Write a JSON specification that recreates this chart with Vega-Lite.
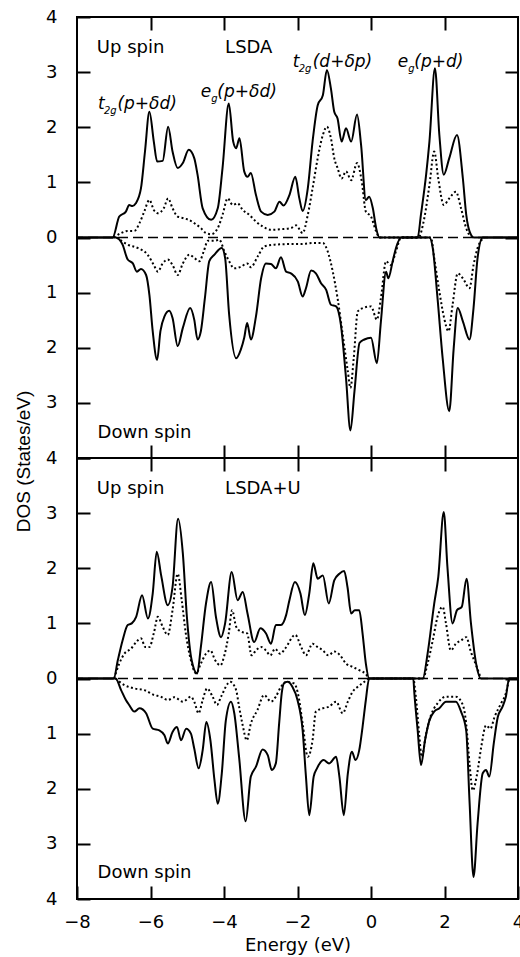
{
  "$schema": "https://vega.github.io/schema/vega-lite/v6.json",
  "background": "white",
  "padding": {"left": 13, "top": 7, "right": 3, "bottom": 5},
  "spacing": 0,
  "bounds": "flush",
  "config": {
    "font": "DejaVu Sans",
    "view": {"stroke": "black", "strokeWidth": 2},
    "axis": {
      "labelFont": "DejaVu Sans", "labelFontSize": 18, "labelColor": "black", "labelFlush": false,
      "titleFont": "DejaVu Sans", "titleFontSize": 18, "titleFontWeight": "normal", "titleColor": "black",
      "domain": false, "ticks": true, "tickSize": 13, "offset": -13, "tickColor": "black", "tickWidth": 2, "tickOpacity": 1,
      "grid": false, "zindex": 2
    },
    "line": {"interpolate": "monotone"},
    "text": {"font": "DejaVu Sans", "fontSize": 18, "color": "black", "align": "left", "baseline": "alphabetic"}
  },
  "datasets": {
    "lsda": [
      {"s":"u","k":"t","e":-8,"d":0},{"s":"u","k":"t","e":-7.03,"d":0},{"s":"u","k":"t","e":-6.85,"d":0.38},{"s":"u","k":"t","e":-6.67,"d":0.47},{"s":"u","k":"t","e":-6.58,"d":0.59},{"s":"u","k":"t","e":-6.49,"d":0.57},{"s":"u","k":"t","e":-6.40,"d":0.62},{"s":"u","k":"t","e":-6.26,"d":0.89},{"s":"u","k":"t","e":-6.15,"d":1.56},{"s":"u","k":"t","e":-6.03,"d":2.28},{"s":"u","k":"t","e":-5.91,"d":1.74},{"s":"u","k":"t","e":-5.82,"d":1.38},{"s":"u","k":"t","e":-5.67,"d":1.39},{"s":"u","k":"t","e":-5.52,"d":2.01},{"s":"u","k":"t","e":-5.40,"d":1.56},{"s":"u","k":"t","e":-5.26,"d":1.26},{"s":"u","k":"t","e":-5.12,"d":1.35},{"s":"u","k":"t","e":-4.96,"d":1.59},{"s":"u","k":"t","e":-4.81,"d":1.44},{"s":"u","k":"t","e":-4.72,"d":1.14},{"s":"u","k":"t","e":-4.58,"d":0.53},{"s":"u","k":"t","e":-4.35,"d":0.32},{"s":"u","k":"t","e":-4.17,"d":0.53},{"s":"u","k":"t","e":-4.04,"d":1.26},{"s":"u","k":"t","e":-3.87,"d":2.43},{"s":"u","k":"t","e":-3.75,"d":1.74},{"s":"u","k":"t","e":-3.67,"d":1.62},{"s":"u","k":"t","e":-3.58,"d":1.80},{"s":"u","k":"t","e":-3.45,"d":1.20},{"s":"u","k":"t","e":-3.36,"d":1.10},{"s":"u","k":"t","e":-3.27,"d":1.17},{"s":"u","k":"t","e":-3.13,"d":0.77},{"s":"u","k":"t","e":-2.99,"d":0.47},{"s":"u","k":"t","e":-2.81,"d":0.41},{"s":"u","k":"t","e":-2.63,"d":0.47},{"s":"u","k":"t","e":-2.49,"d":0.65},{"s":"u","k":"t","e":-2.38,"d":0.58},{"s":"u","k":"t","e":-2.22,"d":0.77},{"s":"u","k":"t","e":-2.06,"d":1.10},{"s":"u","k":"t","e":-1.95,"d":0.71},{"s":"u","k":"t","e":-1.86,"d":0.48},{"s":"u","k":"t","e":-1.72,"d":0.89},{"s":"u","k":"t","e":-1.59,"d":1.74},{"s":"u","k":"t","e":-1.45,"d":2.40},{"s":"u","k":"t","e":-1.31,"d":2.58},{"s":"u","k":"t","e":-1.20,"d":3.04},{"s":"u","k":"t","e":-1.09,"d":2.70},{"s":"u","k":"t","e":-1.00,"d":2.28},{"s":"u","k":"t","e":-0.91,"d":2.16},{"s":"u","k":"t","e":-0.80,"d":1.74},{"s":"u","k":"t","e":-0.68,"d":1.98},{"s":"u","k":"t","e":-0.54,"d":1.74},{"s":"u","k":"t","e":-0.38,"d":2.23},{"s":"u","k":"t","e":-0.27,"d":1.68},{"s":"u","k":"t","e":-0.14,"d":0.68},{"s":"u","k":"t","e":-0.05,"d":0.74},{"s":"u","k":"t","e":0.05,"d":0.53},{"s":"u","k":"t","e":0.14,"d":0.17},{"s":"u","k":"t","e":0.23,"d":0},{"s":"u","k":"t","e":1.27,"d":0},{"s":"u","k":"t","e":1.36,"d":0.42},{"s":"u","k":"t","e":1.50,"d":1.14},{"s":"u","k":"t","e":1.59,"d":1.74},{"s":"u","k":"t","e":1.74,"d":3.07},{"s":"u","k":"t","e":1.86,"d":1.86},{"s":"u","k":"t","e":1.98,"d":1.14},{"s":"u","k":"t","e":2.13,"d":1.44},{"s":"u","k":"t","e":2.34,"d":1.86},{"s":"u","k":"t","e":2.50,"d":1.07},{"s":"u","k":"t","e":2.59,"d":0.42},{"s":"u","k":"t","e":2.72,"d":0.05},{"s":"u","k":"t","e":2.80,"d":0},{"s":"u","k":"t","e":4,"d":0},
      {"s":"u","k":"p","e":-7.0,"d":0},{"s":"u","k":"p","e":-6.80,"d":0.08},{"s":"u","k":"p","e":-6.62,"d":0.12},{"s":"u","k":"p","e":-6.44,"d":0.12},{"s":"u","k":"p","e":-6.30,"d":0.26},{"s":"u","k":"p","e":-6.17,"d":0.47},{"s":"u","k":"p","e":-6.03,"d":0.68},{"s":"u","k":"p","e":-5.91,"d":0.50},{"s":"u","k":"p","e":-5.79,"d":0.44},{"s":"u","k":"p","e":-5.64,"d":0.53},{"s":"u","k":"p","e":-5.52,"d":0.71},{"s":"u","k":"p","e":-5.40,"d":0.53},{"s":"u","k":"p","e":-5.26,"d":0.38},{"s":"u","k":"p","e":-5.10,"d":0.35},{"s":"u","k":"p","e":-4.96,"d":0.32},{"s":"u","k":"p","e":-4.81,"d":0.26},{"s":"u","k":"p","e":-4.63,"d":0.17},{"s":"u","k":"p","e":-4.49,"d":0.08},{"s":"u","k":"p","e":-4.35,"d":0.06},{"s":"u","k":"p","e":-4.17,"d":0.17},{"s":"u","k":"p","e":-4.04,"d":0.41},{"s":"u","k":"p","e":-3.90,"d":0.71},{"s":"u","k":"p","e":-3.76,"d":0.59},{"s":"u","k":"p","e":-3.63,"d":0.62},{"s":"u","k":"p","e":-3.49,"d":0.50},{"s":"u","k":"p","e":-3.31,"d":0.41},{"s":"u","k":"p","e":-3.13,"d":0.29},{"s":"u","k":"p","e":-2.95,"d":0.20},{"s":"u","k":"p","e":-2.72,"d":0.14},{"s":"u","k":"p","e":-2.45,"d":0.15},{"s":"u","k":"p","e":-2.18,"d":0.17},{"s":"u","k":"p","e":-2.04,"d":0.22},{"s":"u","k":"p","e":-1.86,"d":0.08},{"s":"u","k":"p","e":-1.72,"d":0.41},{"s":"u","k":"p","e":-1.59,"d":0.89},{"s":"u","k":"p","e":-1.45,"d":1.44},{"s":"u","k":"p","e":-1.31,"d":1.86},{"s":"u","k":"p","e":-1.20,"d":2.01},{"s":"u","k":"p","e":-1.09,"d":1.80},{"s":"u","k":"p","e":-1.00,"d":1.44},{"s":"u","k":"p","e":-0.91,"d":1.26},{"s":"u","k":"p","e":-0.80,"d":1.07},{"s":"u","k":"p","e":-0.68,"d":1.20},{"s":"u","k":"p","e":-0.54,"d":1.04},{"s":"u","k":"p","e":-0.38,"d":1.35},{"s":"u","k":"p","e":-0.25,"d":1.01},{"s":"u","k":"p","e":-0.14,"d":0.47},{"s":"u","k":"p","e":0.0,"d":0.38},{"s":"u","k":"p","e":0.14,"d":0.11},{"s":"u","k":"p","e":0.23,"d":0},{"s":"u","k":"p","e":1.29,"d":0},{"s":"u","k":"p","e":1.45,"d":0.35},{"s":"u","k":"p","e":1.59,"d":0.95},{"s":"u","k":"p","e":1.72,"d":1.56},{"s":"u","k":"p","e":1.83,"d":1.07},{"s":"u","k":"p","e":1.98,"d":0.59},{"s":"u","k":"p","e":2.13,"d":0.71},{"s":"u","k":"p","e":2.31,"d":0.83},{"s":"u","k":"p","e":2.45,"d":0.53},{"s":"u","k":"p","e":2.59,"d":0.17},{"s":"u","k":"p","e":2.72,"d":0},
      {"s":"d","k":"t","e":-8,"d":0},{"s":"d","k":"t","e":-6.94,"d":0},{"s":"d","k":"t","e":-6.76,"d":-0.13},{"s":"d","k":"t","e":-6.62,"d":-0.40},{"s":"d","k":"t","e":-6.48,"d":-0.47},{"s":"d","k":"t","e":-6.37,"d":-0.62},{"s":"d","k":"t","e":-6.26,"d":-0.57},{"s":"d","k":"t","e":-6.12,"d":-0.68},{"s":"d","k":"t","e":-6.03,"d":-1.04},{"s":"d","k":"t","e":-5.94,"d":-1.70},{"s":"d","k":"t","e":-5.82,"d":-2.22},{"s":"d","k":"t","e":-5.73,"d":-1.70},{"s":"d","k":"t","e":-5.62,"d":-1.43},{"s":"d","k":"t","e":-5.49,"d":-1.33},{"s":"d","k":"t","e":-5.40,"d":-1.46},{"s":"d","k":"t","e":-5.26,"d":-1.97},{"s":"d","k":"t","e":-5.12,"d":-1.64},{"s":"d","k":"t","e":-4.92,"d":-1.28},{"s":"d","k":"t","e":-4.81,"d":-1.49},{"s":"d","k":"t","e":-4.72,"d":-1.85},{"s":"d","k":"t","e":-4.63,"d":-1.70},{"s":"d","k":"t","e":-4.52,"d":-1.10},{"s":"d","k":"t","e":-4.40,"d":-0.43},{"s":"d","k":"t","e":-4.26,"d":-0.31},{"s":"d","k":"t","e":-4.06,"d":-0.19},{"s":"d","k":"t","e":-3.97,"d":-0.37},{"s":"d","k":"t","e":-3.86,"d":-1.40},{"s":"d","k":"t","e":-3.67,"d":-2.19},{"s":"d","k":"t","e":-3.54,"d":-2.03},{"s":"d","k":"t","e":-3.45,"d":-1.82},{"s":"d","k":"t","e":-3.37,"d":-1.55},{"s":"d","k":"t","e":-3.27,"d":-1.85},{"s":"d","k":"t","e":-3.13,"d":-1.43},{"s":"d","k":"t","e":-2.99,"d":-0.74},{"s":"d","k":"t","e":-2.86,"d":-0.47},{"s":"d","k":"t","e":-2.72,"d":-0.48},{"s":"d","k":"t","e":-2.59,"d":-0.56},{"s":"d","k":"t","e":-2.45,"d":-0.36},{"s":"d","k":"t","e":-2.31,"d":-0.62},{"s":"d","k":"t","e":-2.18,"d":-0.65},{"s":"d","k":"t","e":-1.99,"d":-0.80},{"s":"d","k":"t","e":-1.86,"d":-1.07},{"s":"d","k":"t","e":-1.77,"d":-0.92},{"s":"d","k":"t","e":-1.63,"d":-0.60},{"s":"d","k":"t","e":-1.50,"d":-0.65},{"s":"d","k":"t","e":-1.36,"d":-0.83},{"s":"d","k":"t","e":-1.22,"d":-0.95},{"s":"d","k":"t","e":-1.09,"d":-1.22},{"s":"d","k":"t","e":-0.95,"d":-1.25},{"s":"d","k":"t","e":-0.82,"d":-1.58},{"s":"d","k":"t","e":-0.68,"d":-2.55},{"s":"d","k":"t","e":-0.56,"d":-3.50},{"s":"d","k":"t","e":-0.45,"d":-2.79},{"s":"d","k":"t","e":-0.31,"d":-1.91},{"s":"d","k":"t","e":-0.18,"d":-1.85},{"s":"d","k":"t","e":0.0,"d":-1.82},{"s":"d","k":"t","e":0.16,"d":-2.28},{"s":"d","k":"t","e":0.27,"d":-1.52},{"s":"d","k":"t","e":0.41,"d":-0.62},{"s":"d","k":"t","e":0.47,"d":-0.74},{"s":"d","k":"t","e":0.59,"d":-0.43},{"s":"d","k":"t","e":0.68,"d":-0.19},{"s":"d","k":"t","e":0.82,"d":0},{"s":"d","k":"t","e":1.59,"d":0},{"s":"d","k":"t","e":1.68,"d":-0.19},{"s":"d","k":"t","e":1.81,"d":-1.10},{"s":"d","k":"t","e":1.95,"d":-2.19},{"s":"d","k":"t","e":2.13,"d":-3.15},{"s":"d","k":"t","e":2.25,"d":-2.01},{"s":"d","k":"t","e":2.36,"d":-1.28},{"s":"d","k":"t","e":2.50,"d":-1.52},{"s":"d","k":"t","e":2.68,"d":-1.85},{"s":"d","k":"t","e":2.79,"d":-1.28},{"s":"d","k":"t","e":2.90,"d":-0.37},{"s":"d","k":"t","e":3.04,"d":0},{"s":"d","k":"t","e":4,"d":0},
      {"s":"d","k":"p","e":-6.92,"d":0},{"s":"d","k":"p","e":-6.62,"d":-0.13},{"s":"d","k":"p","e":-6.35,"d":-0.19},{"s":"d","k":"p","e":-6.08,"d":-0.31},{"s":"d","k":"p","e":-5.91,"d":-0.50},{"s":"d","k":"p","e":-5.80,"d":-0.62},{"s":"d","k":"p","e":-5.67,"d":-0.47},{"s":"d","k":"p","e":-5.53,"d":-0.40},{"s":"d","k":"p","e":-5.40,"d":-0.50},{"s":"d","k":"p","e":-5.26,"d":-0.68},{"s":"d","k":"p","e":-5.12,"d":-0.47},{"s":"d","k":"p","e":-4.94,"d":-0.31},{"s":"d","k":"p","e":-4.81,"d":-0.37},{"s":"d","k":"p","e":-4.67,"d":-0.43},{"s":"d","k":"p","e":-4.55,"d":-0.25},{"s":"d","k":"p","e":-4.44,"d":-0.06},{"s":"d","k":"p","e":-4.26,"d":-0.06},{"s":"d","k":"p","e":-4.13,"d":-0.04},{"s":"d","k":"p","e":-3.99,"d":-0.25},{"s":"d","k":"p","e":-3.86,"d":-0.43},{"s":"d","k":"p","e":-3.72,"d":-0.56},{"s":"d","k":"p","e":-3.54,"d":-0.53},{"s":"d","k":"p","e":-3.37,"d":-0.47},{"s":"d","k":"p","e":-3.27,"d":-0.54},{"s":"d","k":"p","e":-3.08,"d":-0.34},{"s":"d","k":"p","e":-2.90,"d":-0.16},{"s":"d","k":"p","e":-2.63,"d":-0.13},{"s":"d","k":"p","e":-2.27,"d":-0.12},{"s":"d","k":"p","e":-1.90,"d":-0.12},{"s":"d","k":"p","e":-1.59,"d":-0.10},{"s":"d","k":"p","e":-1.31,"d":-0.10},{"s":"d","k":"p","e":-1.18,"d":-0.25},{"s":"d","k":"p","e":-1.04,"d":-0.62},{"s":"d","k":"p","e":-0.91,"d":-1.10},{"s":"d","k":"p","e":-0.77,"d":-1.76},{"s":"d","k":"p","e":-0.63,"d":-2.43},{"s":"d","k":"p","e":-0.56,"d":-2.73},{"s":"d","k":"p","e":-0.47,"d":-2.19},{"s":"d","k":"p","e":-0.36,"d":-1.34},{"s":"d","k":"p","e":-0.22,"d":-1.28},{"s":"d","k":"p","e":0.0,"d":-1.25},{"s":"d","k":"p","e":0.16,"d":-1.49},{"s":"d","k":"p","e":0.27,"d":-1.10},{"s":"d","k":"p","e":0.41,"d":-0.43},{"s":"d","k":"p","e":0.54,"d":-0.50},{"s":"d","k":"p","e":0.68,"d":-0.25},{"s":"d","k":"p","e":0.82,"d":0},{"s":"d","k":"p","e":1.63,"d":0},{"s":"d","k":"p","e":1.72,"d":-0.37},{"s":"d","k":"p","e":1.86,"d":-0.98},{"s":"d","k":"p","e":1.99,"d":-1.46},{"s":"d","k":"p","e":2.11,"d":-1.70},{"s":"d","k":"p","e":2.22,"d":-1.22},{"s":"d","k":"p","e":2.36,"d":-0.65},{"s":"d","k":"p","e":2.50,"d":-0.74},{"s":"d","k":"p","e":2.68,"d":-0.92},{"s":"d","k":"p","e":2.79,"d":-0.50},{"s":"d","k":"p","e":2.90,"d":-0.19},{"s":"d","k":"p","e":3.08,"d":0}
    ],
    "lsdau": [
      {"s":"u","k":"t","e":-8,"d":0},{"s":"u","k":"t","e":-7.00,"d":0},{"s":"u","k":"t","e":-6.89,"d":0.33},{"s":"u","k":"t","e":-6.76,"d":0.69},{"s":"u","k":"t","e":-6.62,"d":0.97},{"s":"u","k":"t","e":-6.51,"d":1.00},{"s":"u","k":"t","e":-6.39,"d":1.12},{"s":"u","k":"t","e":-6.23,"d":1.51},{"s":"u","k":"t","e":-6.07,"d":1.09},{"s":"u","k":"t","e":-5.94,"d":1.54},{"s":"u","k":"t","e":-5.83,"d":2.30},{"s":"u","k":"t","e":-5.71,"d":1.87},{"s":"u","k":"t","e":-5.53,"d":1.33},{"s":"u","k":"t","e":-5.40,"d":1.66},{"s":"u","k":"t","e":-5.25,"d":2.90},{"s":"u","k":"t","e":-5.12,"d":2.27},{"s":"u","k":"t","e":-5.01,"d":1.12},{"s":"u","k":"t","e":-4.88,"d":0.33},{"s":"u","k":"t","e":-4.73,"d":0.09},{"s":"u","k":"t","e":-4.63,"d":0.57},{"s":"u","k":"t","e":-4.49,"d":1.36},{"s":"u","k":"t","e":-4.35,"d":1.75},{"s":"u","k":"t","e":-4.22,"d":1.12},{"s":"u","k":"t","e":-4.08,"d":0.75},{"s":"u","k":"t","e":-3.97,"d":1.00},{"s":"u","k":"t","e":-3.79,"d":1.93},{"s":"u","k":"t","e":-3.63,"d":1.42},{"s":"u","k":"t","e":-3.49,"d":1.57},{"s":"u","k":"t","e":-3.36,"d":1.18},{"s":"u","k":"t","e":-3.18,"d":0.66},{"s":"u","k":"t","e":-3.01,"d":0.91},{"s":"u","k":"t","e":-2.86,"d":0.82},{"s":"u","k":"t","e":-2.72,"d":0.63},{"s":"u","k":"t","e":-2.59,"d":0.97},{"s":"u","k":"t","e":-2.45,"d":0.97},{"s":"u","k":"t","e":-2.31,"d":1.15},{"s":"u","k":"t","e":-2.22,"d":1.42},{"s":"u","k":"t","e":-2.07,"d":1.75},{"s":"u","k":"t","e":-1.92,"d":1.54},{"s":"u","k":"t","e":-1.80,"d":1.15},{"s":"u","k":"t","e":-1.68,"d":1.54},{"s":"u","k":"t","e":-1.57,"d":2.09},{"s":"u","k":"t","e":-1.45,"d":1.81},{"s":"u","k":"t","e":-1.31,"d":1.87},{"s":"u","k":"t","e":-1.15,"d":1.36},{"s":"u","k":"t","e":-1.00,"d":1.78},{"s":"u","k":"t","e":-0.86,"d":1.90},{"s":"u","k":"t","e":-0.73,"d":1.95},{"s":"u","k":"t","e":-0.64,"d":1.66},{"s":"u","k":"t","e":-0.54,"d":1.18},{"s":"u","k":"t","e":-0.44,"d":1.24},{"s":"u","k":"t","e":-0.32,"d":1.24},{"s":"u","k":"t","e":-0.23,"d":0.82},{"s":"u","k":"t","e":-0.14,"d":0.27},{"s":"u","k":"t","e":-0.05,"d":0},{"s":"u","k":"t","e":1.41,"d":0},{"s":"u","k":"t","e":1.54,"d":0.45},{"s":"u","k":"t","e":1.72,"d":1.36},{"s":"u","k":"t","e":1.83,"d":1.84},{"s":"u","k":"t","e":1.98,"d":3.02},{"s":"u","k":"t","e":2.08,"d":2.02},{"s":"u","k":"t","e":2.22,"d":1.00},{"s":"u","k":"t","e":2.34,"d":1.24},{"s":"u","k":"t","e":2.47,"d":1.30},{"s":"u","k":"t","e":2.60,"d":1.81},{"s":"u","k":"t","e":2.72,"d":1.00},{"s":"u","k":"t","e":2.86,"d":0.27},{"s":"u","k":"t","e":2.99,"d":0},{"s":"u","k":"t","e":4,"d":0},
      {"s":"u","k":"p","e":-6.99,"d":0},{"s":"u","k":"p","e":-6.85,"d":0.27},{"s":"u","k":"p","e":-6.71,"d":0.45},{"s":"u","k":"p","e":-6.53,"d":0.54},{"s":"u","k":"p","e":-6.39,"d":0.66},{"s":"u","k":"p","e":-6.26,"d":0.73},{"s":"u","k":"p","e":-6.14,"d":0.57},{"s":"u","k":"p","e":-6.03,"d":0.57},{"s":"u","k":"p","e":-5.91,"d":0.82},{"s":"u","k":"p","e":-5.80,"d":1.12},{"s":"u","k":"p","e":-5.67,"d":0.94},{"s":"u","k":"p","e":-5.53,"d":0.79},{"s":"u","k":"p","e":-5.40,"d":1.24},{"s":"u","k":"p","e":-5.26,"d":1.90},{"s":"u","k":"p","e":-5.15,"d":1.42},{"s":"u","k":"p","e":-5.04,"d":0.82},{"s":"u","k":"p","e":-4.90,"d":0.33},{"s":"u","k":"p","e":-4.76,"d":0.09},{"s":"u","k":"p","e":-4.63,"d":0.27},{"s":"u","k":"p","e":-4.49,"d":0.45},{"s":"u","k":"p","e":-4.37,"d":0.51},{"s":"u","k":"p","e":-4.24,"d":0.33},{"s":"u","k":"p","e":-4.10,"d":0.24},{"s":"u","k":"p","e":-3.99,"d":0.42},{"s":"u","k":"p","e":-3.87,"d":0.82},{"s":"u","k":"p","e":-3.78,"d":1.24},{"s":"u","k":"p","e":-3.67,"d":0.94},{"s":"u","k":"p","e":-3.54,"d":0.85},{"s":"u","k":"p","e":-3.37,"d":0.82},{"s":"u","k":"p","e":-3.25,"d":0.42},{"s":"u","k":"p","e":-3.13,"d":0.51},{"s":"u","k":"p","e":-2.99,"d":0.57},{"s":"u","k":"p","e":-2.86,"d":0.51},{"s":"u","k":"p","e":-2.74,"d":0.42},{"s":"u","k":"p","e":-2.61,"d":0.54},{"s":"u","k":"p","e":-2.47,"d":0.45},{"s":"u","k":"p","e":-2.34,"d":0.54},{"s":"u","k":"p","e":-2.06,"d":0.79},{"s":"u","k":"p","e":-1.90,"d":0.57},{"s":"u","k":"p","e":-1.77,"d":0.42},{"s":"u","k":"p","e":-1.59,"d":0.63},{"s":"u","k":"p","e":-1.45,"d":0.57},{"s":"u","k":"p","e":-1.31,"d":0.51},{"s":"u","k":"p","e":-1.16,"d":0.42},{"s":"u","k":"p","e":-1.00,"d":0.49},{"s":"u","k":"p","e":-0.84,"d":0.42},{"s":"u","k":"p","e":-0.68,"d":0.27},{"s":"u","k":"p","e":-0.50,"d":0.21},{"s":"u","k":"p","e":-0.32,"d":0.15},{"s":"u","k":"p","e":-0.14,"d":0.08},{"s":"u","k":"p","e":-0.05,"d":0},{"s":"u","k":"p","e":1.41,"d":0},{"s":"u","k":"p","e":1.54,"d":0.27},{"s":"u","k":"p","e":1.68,"d":0.69},{"s":"u","k":"p","e":1.81,"d":1.12},{"s":"u","k":"p","e":1.95,"d":1.30},{"s":"u","k":"p","e":2.04,"d":1.00},{"s":"u","k":"p","e":2.17,"d":0.51},{"s":"u","k":"p","e":2.31,"d":0.63},{"s":"u","k":"p","e":2.45,"d":0.69},{"s":"u","k":"p","e":2.59,"d":0.75},{"s":"u","k":"p","e":2.72,"d":0.48},{"s":"u","k":"p","e":2.86,"d":0.24},{"s":"u","k":"p","e":2.99,"d":0},
      {"s":"d","k":"t","e":-8,"d":0},{"s":"d","k":"t","e":-6.95,"d":0},{"s":"d","k":"t","e":-6.80,"d":-0.21},{"s":"d","k":"t","e":-6.67,"d":-0.39},{"s":"d","k":"t","e":-6.58,"d":-0.48},{"s":"d","k":"t","e":-6.44,"d":-0.60},{"s":"d","k":"t","e":-6.30,"d":-0.54},{"s":"d","k":"t","e":-6.12,"d":-0.63},{"s":"d","k":"t","e":-5.94,"d":-0.91},{"s":"d","k":"t","e":-5.76,"d":-0.94},{"s":"d","k":"t","e":-5.62,"d":-1.03},{"s":"d","k":"t","e":-5.53,"d":-1.18},{"s":"d","k":"t","e":-5.40,"d":-0.97},{"s":"d","k":"t","e":-5.28,"d":-0.88},{"s":"d","k":"t","e":-5.17,"d":-1.12},{"s":"d","k":"t","e":-5.03,"d":-0.91},{"s":"d","k":"t","e":-4.90,"d":-1.00},{"s":"d","k":"t","e":-4.81,"d":-1.27},{"s":"d","k":"t","e":-4.69,"d":-1.63},{"s":"d","k":"t","e":-4.58,"d":-1.30},{"s":"d","k":"t","e":-4.48,"d":-0.79},{"s":"d","k":"t","e":-4.37,"d":-1.12},{"s":"d","k":"t","e":-4.26,"d":-1.84},{"s":"d","k":"t","e":-4.17,"d":-2.27},{"s":"d","k":"t","e":-4.06,"d":-1.72},{"s":"d","k":"t","e":-3.95,"d":-0.76},{"s":"d","k":"t","e":-3.81,"d":-0.42},{"s":"d","k":"t","e":-3.72,"d":-0.63},{"s":"d","k":"t","e":-3.59,"d":-1.42},{"s":"d","k":"t","e":-3.41,"d":-2.59},{"s":"d","k":"t","e":-3.27,"d":-1.78},{"s":"d","k":"t","e":-3.13,"d":-1.60},{"s":"d","k":"t","e":-2.95,"d":-1.29},{"s":"d","k":"t","e":-2.81,"d":-1.39},{"s":"d","k":"t","e":-2.70,"d":-1.66},{"s":"d","k":"t","e":-2.59,"d":-1.54},{"s":"d","k":"t","e":-2.50,"d":-0.82},{"s":"d","k":"t","e":-2.43,"d":-0.27},{"s":"d","k":"t","e":-2.37,"d":-0.09},{"s":"d","k":"t","e":-2.27,"d":-0.06},{"s":"d","k":"t","e":-2.14,"d":-0.15},{"s":"d","k":"t","e":-2.00,"d":-0.39},{"s":"d","k":"t","e":-1.86,"d":-0.94},{"s":"d","k":"t","e":-1.77,"d":-1.78},{"s":"d","k":"t","e":-1.68,"d":-2.48},{"s":"d","k":"t","e":-1.56,"d":-1.78},{"s":"d","k":"t","e":-1.47,"d":-1.63},{"s":"d","k":"t","e":-1.29,"d":-1.48},{"s":"d","k":"t","e":-1.14,"d":-1.54},{"s":"d","k":"t","e":-0.95,"d":-1.42},{"s":"d","k":"t","e":-0.86,"d":-1.78},{"s":"d","k":"t","e":-0.74,"d":-2.48},{"s":"d","k":"t","e":-0.63,"d":-1.72},{"s":"d","k":"t","e":-0.52,"d":-1.33},{"s":"d","k":"t","e":-0.42,"d":-1.48},{"s":"d","k":"t","e":-0.32,"d":-1.30},{"s":"d","k":"t","e":-0.23,"d":-0.88},{"s":"d","k":"t","e":-0.14,"d":-0.39},{"s":"d","k":"t","e":-0.05,"d":0},{"s":"d","k":"t","e":1.15,"d":0},{"s":"d","k":"t","e":1.18,"d":-0.27},{"s":"d","k":"t","e":1.27,"d":-0.94},{"s":"d","k":"t","e":1.36,"d":-1.57},{"s":"d","k":"t","e":1.47,"d":-1.12},{"s":"d","k":"t","e":1.59,"d":-0.76},{"s":"d","k":"t","e":1.72,"d":-0.60},{"s":"d","k":"t","e":1.86,"d":-0.54},{"s":"d","k":"t","e":2.04,"d":-0.42},{"s":"d","k":"t","e":2.31,"d":-0.42},{"s":"d","k":"t","e":2.45,"d":-0.60},{"s":"d","k":"t","e":2.59,"d":-0.94},{"s":"d","k":"t","e":2.68,"d":-2.21},{"s":"d","k":"t","e":2.79,"d":-3.60},{"s":"d","k":"t","e":2.90,"d":-2.63},{"s":"d","k":"t","e":3.04,"d":-1.72},{"s":"d","k":"t","e":3.13,"d":-1.66},{"s":"d","k":"t","e":3.22,"d":-1.78},{"s":"d","k":"t","e":3.34,"d":-1.18},{"s":"d","k":"t","e":3.45,"d":-0.70},{"s":"d","k":"t","e":3.58,"d":-0.51},{"s":"d","k":"t","e":3.67,"d":-0.33},{"s":"d","k":"t","e":3.76,"d":0},{"s":"d","k":"t","e":4,"d":0},
      {"s":"d","k":"p","e":-6.95,"d":0},{"s":"d","k":"p","e":-6.71,"d":-0.12},{"s":"d","k":"p","e":-6.44,"d":-0.18},{"s":"d","k":"p","e":-6.17,"d":-0.21},{"s":"d","k":"p","e":-5.90,"d":-0.30},{"s":"d","k":"p","e":-5.72,"d":-0.33},{"s":"d","k":"p","e":-5.53,"d":-0.39},{"s":"d","k":"p","e":-5.35,"d":-0.34},{"s":"d","k":"p","e":-5.12,"d":-0.42},{"s":"d","k":"p","e":-4.90,"d":-0.33},{"s":"d","k":"p","e":-4.81,"d":-0.42},{"s":"d","k":"p","e":-4.69,"d":-0.63},{"s":"d","k":"p","e":-4.58,"d":-0.39},{"s":"d","k":"p","e":-4.46,"d":-0.18},{"s":"d","k":"p","e":-4.31,"d":-0.33},{"s":"d","k":"p","e":-4.19,"d":-0.48},{"s":"d","k":"p","e":-4.08,"d":-0.33},{"s":"d","k":"p","e":-3.83,"d":-0.06},{"s":"d","k":"p","e":-3.67,"d":-0.21},{"s":"d","k":"p","e":-3.59,"d":-0.51},{"s":"d","k":"p","e":-3.50,"d":-0.82},{"s":"d","k":"p","e":-3.38,"d":-1.12},{"s":"d","k":"p","e":-3.27,"d":-0.82},{"s":"d","k":"p","e":-3.09,"d":-0.57},{"s":"d","k":"p","e":-2.91,"d":-0.30},{"s":"d","k":"p","e":-2.72,"d":-0.42},{"s":"d","k":"p","e":-2.59,"d":-0.33},{"s":"d","k":"p","e":-2.45,"d":-0.15},{"s":"d","k":"p","e":-2.31,"d":-0.06},{"s":"d","k":"p","e":-2.09,"d":-0.09},{"s":"d","k":"p","e":-1.97,"d":-0.33},{"s":"d","k":"p","e":-1.86,"d":-0.82},{"s":"d","k":"p","e":-1.72,"d":-1.42},{"s":"d","k":"p","e":-1.59,"d":-1.12},{"s":"d","k":"p","e":-1.50,"d":-0.60},{"s":"d","k":"p","e":-1.31,"d":-0.54},{"s":"d","k":"p","e":-1.14,"d":-0.51},{"s":"d","k":"p","e":-0.95,"d":-0.42},{"s":"d","k":"p","e":-0.77,"d":-0.63},{"s":"d","k":"p","e":-0.63,"d":-0.42},{"s":"d","k":"p","e":-0.50,"d":-0.24},{"s":"d","k":"p","e":-0.36,"d":-0.15},{"s":"d","k":"p","e":-0.18,"d":-0.06},{"s":"d","k":"p","e":-0.05,"d":0},{"s":"d","k":"p","e":1.15,"d":0},{"s":"d","k":"p","e":1.22,"d":-0.33},{"s":"d","k":"p","e":1.31,"d":-1.00},{"s":"d","k":"p","e":1.38,"d":-1.42},{"s":"d","k":"p","e":1.50,"d":-1.00},{"s":"d","k":"p","e":1.63,"d":-0.67},{"s":"d","k":"p","e":1.81,"d":-0.45},{"s":"d","k":"p","e":2.04,"d":-0.33},{"s":"d","k":"p","e":2.31,"d":-0.33},{"s":"d","k":"p","e":2.50,"d":-0.48},{"s":"d","k":"p","e":2.59,"d":-0.82},{"s":"d","k":"p","e":2.68,"d":-1.54},{"s":"d","k":"p","e":2.77,"d":-2.03},{"s":"d","k":"p","e":2.89,"d":-1.72},{"s":"d","k":"p","e":3.00,"d":-1.24},{"s":"d","k":"p","e":3.13,"d":-0.85},{"s":"d","k":"p","e":3.25,"d":-0.91},{"s":"d","k":"p","e":3.36,"d":-0.70},{"s":"d","k":"p","e":3.54,"d":-0.45},{"s":"d","k":"p","e":3.67,"d":-0.27},{"s":"d","k":"p","e":3.76,"d":0}
    ]
  },
  "vconcat": [
    {
      "width": 441, "height": 441,
      "data": {"name": "lsda"},
      "layer": [
        {"data": {"values": [{}]}, "mark": {"type": "rule", "strokeDash": [10, 5], "strokeWidth": 1.5, "color": "black"},
         "encoding": {"y": {"datum": 0, "type": "quantitative", "axis": null}}},
        {"transform": [{"filter": "datum.k == 't'"}],
         "mark": {"type": "line", "color": "black", "strokeWidth": 2},
         "encoding": {
           "x": {"field": "e", "type": "quantitative", "scale": {"domain": [-8, 4], "nice": false, "zero": false},
                 "axis": {"orient": "bottom", "values": [-6,-4,-2,0,2], "labels": false, "title": null}},
           "y": {"field": "d", "type": "quantitative", "scale": {"domain": [-4, 4], "nice": false},
                 "axis": {"orient": "left", "values": [-4,-3,-2,-1,0,1,2,3,4], "labelExpr": "format(abs(datum.value),'d')", "labelPadding": 20,
                          "title": "DOS (States/eV)", "titleFont": "Liberation Sans", "titleFontSize": 19, "titleX": -67, "titleY": 444, "titleAngle": 270, "titleAlign": "center", "titleBaseline": "middle"}},
           "detail": {"field": "s"}
         }},
        {"transform": [{"filter": "datum.k == 'p'"}],
         "mark": {"type": "line", "color": "black", "strokeWidth": 2, "strokeDash": [2, 2.5]},
         "encoding": {
           "x": {"field": "e", "type": "quantitative", "axis": {"orient": "top", "values": [-6,-4,-2,0,2], "labels": false, "title": null}},
           "y": {"field": "d", "type": "quantitative", "axis": {"orient": "right", "values": [-3,-2,-1,0,1,2,3], "labels": false, "title": null}},
           "detail": {"field": "s"}
         }},
        {"data": {"values": [{}]}, "mark": {"type": "text"}, "encoding": {"x": {"datum": -7.46, "type": "quantitative", "axis": null}, "y": {"datum": 3.35, "type": "quantitative", "axis": null}, "text": {"value": "Up spin"}}},
        {"data": {"values": [{}]}, "mark": {"type": "text"}, "encoding": {"x": {"datum": -3.97, "type": "quantitative", "axis": null}, "y": {"datum": 3.35, "type": "quantitative", "axis": null}, "text": {"value": "LSDA"}}},
        {"data": {"values": [{}]}, "mark": {"type": "text"}, "encoding": {"x": {"datum": -7.44, "type": "quantitative", "axis": null}, "y": {"datum": -3.64, "type": "quantitative", "axis": null}, "text": {"value": "Down spin"}}},
        {"data": {"values": [{}]}, "mark": {"type": "text", "fontStyle": "italic", "fontSize": 17}, "encoding": {"x": {"datum": -7.43, "type": "quantitative", "axis": null}, "y": {"datum": 2.34, "type": "quantitative", "axis": null}, "text": {"value": "t"}}},
        {"data": {"values": [{}]}, "mark": {"type": "text", "fontStyle": "italic", "fontSize": 10, "dx": 6, "dy": 5}, "encoding": {"x": {"datum": -7.43, "type": "quantitative", "axis": null}, "y": {"datum": 2.34, "type": "quantitative", "axis": null}, "text": {"value": "2g"}}},
        {"data": {"values": [{}]}, "mark": {"type": "text", "fontStyle": "italic", "fontSize": 17, "dx": 19.5}, "encoding": {"x": {"datum": -7.43, "type": "quantitative", "axis": null}, "y": {"datum": 2.34, "type": "quantitative", "axis": null}, "text": {"value": "(p+δd)"}}},
        {"data": {"values": [{}]}, "mark": {"type": "text", "fontStyle": "italic", "fontSize": 17}, "encoding": {"x": {"datum": -4.63, "type": "quantitative", "axis": null}, "y": {"datum": 2.55, "type": "quantitative", "axis": null}, "text": {"value": "e"}}},
        {"data": {"values": [{}]}, "mark": {"type": "text", "fontStyle": "italic", "fontSize": 10, "dx": 10.5, "dy": 5}, "encoding": {"x": {"datum": -4.63, "type": "quantitative", "axis": null}, "y": {"datum": 2.55, "type": "quantitative", "axis": null}, "text": {"value": "g"}}},
        {"data": {"values": [{}]}, "mark": {"type": "text", "fontStyle": "italic", "fontSize": 17, "dx": 16.5}, "encoding": {"x": {"datum": -4.63, "type": "quantitative", "axis": null}, "y": {"datum": 2.55, "type": "quantitative", "axis": null}, "text": {"value": "(p+δd)"}}},
        {"data": {"values": [{}]}, "mark": {"type": "text", "fontStyle": "italic", "fontSize": 17}, "encoding": {"x": {"datum": -2.13, "type": "quantitative", "axis": null}, "y": {"datum": 3.10, "type": "quantitative", "axis": null}, "text": {"value": "t"}}},
        {"data": {"values": [{}]}, "mark": {"type": "text", "fontStyle": "italic", "fontSize": 10, "dx": 6, "dy": 5}, "encoding": {"x": {"datum": -2.13, "type": "quantitative", "axis": null}, "y": {"datum": 3.10, "type": "quantitative", "axis": null}, "text": {"value": "2g"}}},
        {"data": {"values": [{}]}, "mark": {"type": "text", "fontStyle": "italic", "fontSize": 17, "dx": 20}, "encoding": {"x": {"datum": -2.13, "type": "quantitative", "axis": null}, "y": {"datum": 3.10, "type": "quantitative", "axis": null}, "text": {"value": "(d+δp)"}}},
        {"data": {"values": [{}]}, "mark": {"type": "text", "fontStyle": "italic", "fontSize": 17}, "encoding": {"x": {"datum": 0.73, "type": "quantitative", "axis": null}, "y": {"datum": 3.10, "type": "quantitative", "axis": null}, "text": {"value": "e"}}},
        {"data": {"values": [{}]}, "mark": {"type": "text", "fontStyle": "italic", "fontSize": 10, "dx": 10.5, "dy": 5}, "encoding": {"x": {"datum": 0.73, "type": "quantitative", "axis": null}, "y": {"datum": 3.10, "type": "quantitative", "axis": null}, "text": {"value": "g"}}},
        {"data": {"values": [{}]}, "mark": {"type": "text", "fontStyle": "italic", "fontSize": 17, "dx": 16.5}, "encoding": {"x": {"datum": 0.73, "type": "quantitative", "axis": null}, "y": {"datum": 3.10, "type": "quantitative", "axis": null}, "text": {"value": "(p+d)"}}}
      ],
      "resolve": {"axis": {"x": "independent", "y": "independent"}}
    },
    {
      "width": 441, "height": 441,
      "data": {"name": "lsdau"},
      "layer": [
        {"data": {"values": [{}]}, "mark": {"type": "rule", "strokeDash": [10, 5], "strokeWidth": 1.5, "color": "black"},
         "encoding": {"y": {"datum": 0, "type": "quantitative", "axis": null}}},
        {"transform": [{"filter": "datum.k == 't'"}],
         "mark": {"type": "line", "color": "black", "strokeWidth": 2},
         "encoding": {
           "x": {"field": "e", "type": "quantitative", "scale": {"domain": [-8, 4], "nice": false, "zero": false},
                 "axis": {"orient": "bottom", "values": [-8,-6,-4,-2,0,2,4], "labelPadding": 14, "title": "Energy (eV)", "titlePadding": 5}},
           "y": {"field": "d", "type": "quantitative", "scale": {"domain": [-4, 4], "nice": false},
                 "axis": {"orient": "left", "values": [-4,-3,-2,-1,0,1,2,3,4], "labelExpr": "datum.value == 4 ? '' : format(abs(datum.value),'d')", "labelPadding": 20, "title": null}},
           "detail": {"field": "s"}
         }},
        {"transform": [{"filter": "datum.k == 'p'"}],
         "mark": {"type": "line", "color": "black", "strokeWidth": 2, "strokeDash": [2, 2.5]},
         "encoding": {
           "x": {"field": "e", "type": "quantitative", "axis": {"orient": "top", "values": [-6,-4,-2,0,2], "labels": false, "title": null}},
           "y": {"field": "d", "type": "quantitative", "axis": {"orient": "right", "values": [-3,-2,-1,0,1,2,3], "labels": false, "title": null}},
           "detail": {"field": "s"}
         }},
        {"data": {"values": [{}]}, "mark": {"type": "text"}, "encoding": {"x": {"datum": -7.46, "type": "quantitative", "axis": null}, "y": {"datum": 3.35, "type": "quantitative", "axis": null}, "text": {"value": "Up spin"}}},
        {"data": {"values": [{}]}, "mark": {"type": "text"}, "encoding": {"x": {"datum": -3.97, "type": "quantitative", "axis": null}, "y": {"datum": 3.35, "type": "quantitative", "axis": null}, "text": {"value": "LSDA+U"}}},
        {"data": {"values": [{}]}, "mark": {"type": "text"}, "encoding": {"x": {"datum": -7.44, "type": "quantitative", "axis": null}, "y": {"datum": -3.62, "type": "quantitative", "axis": null}, "text": {"value": "Down spin"}}}
      ],
      "resolve": {"axis": {"x": "independent", "y": "independent"}}
    }
  ]
}
